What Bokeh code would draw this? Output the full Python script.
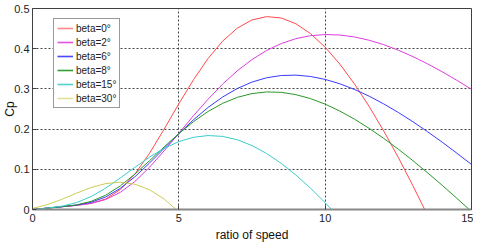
from bokeh.plotting import figure
from bokeh.models import Range1d, FixedTicker, Legend, LegendItem
from bokeh.embed import file_html
from bokeh.resources import INLINE

# tip speed ratio samples
tsr = [0, 0.5, 1, 1.5, 2, 2.5, 3, 3.5, 4, 4.5, 5, 5.5, 6, 6.5, 7, 7.5,
       8, 8.5, 9, 9.5, 10, 10.5, 11, 11.5, 12, 12.5, 13, 13.5, 14, 14.5, 15]

cp_b0 = [0, 0.0034, 0.0068, 0.0103, 0.0151, 0.0261, 0.0495, 0.0883, 0.140, 0.200,
         0.263, 0.3227, 0.3757, 0.4191, 0.4512, 0.4716, 0.4798, 0.4764, 0.4620, 0.4375,
         0.4037, 0.3618, 0.3125, 0.2567, 0.1954, 0.1293, 0.0590, -0.0147]
cp_b2 = [0, 0.0034, 0.0068, 0.0103, 0.0152, 0.0248, 0.0426, 0.0698, 0.1052, 0.1462,
         0.1897, 0.2332, 0.2744, 0.3121, 0.3452, 0.3730, 0.3956, 0.4128, 0.4250, 0.4324,
         0.4352, 0.4341, 0.4292, 0.4211, 0.4101, 0.3963, 0.3803, 0.3623, 0.3426, 0.3214, 0.2989]
cp_b6 = [0, 0.0034, 0.0068, 0.0109, 0.0179, 0.0312, 0.0526, 0.0815, 0.1156, 0.1522,
         0.1887, 0.2231, 0.2539, 0.2800, 0.3011, 0.3170, 0.3277, 0.3333, 0.3343, 0.3309,
         0.3236, 0.3128, 0.2987, 0.2820, 0.2627, 0.2414, 0.2182, 0.1934, 0.1674, 0.1401, 0.1120]
cp_b8 = [0, 0.0034, 0.0069, 0.0115, 0.0201, 0.0356, 0.0587, 0.0882, 0.1214, 0.1558,
         0.1888, 0.2185, 0.2439, 0.2642, 0.2790, 0.2884, 0.2924, 0.2914, 0.2857, 0.2758,
         0.2621, 0.2449, 0.2248, 0.2020, 0.1770, 0.1500, 0.1214, 0.0913, 0.0601, 0.0279, -0.0051]
cp_b15 = [0, 0.0035, 0.0083, 0.0171, 0.0321, 0.0531, 0.0784, 0.1050, 0.1304, 0.1522,
          0.1689, 0.1796, 0.1840, 0.1818, 0.1734, 0.1590, 0.1393, 0.1147, 0.0857, 0.0530,
          0.0169, -0.0221]
cp_b30 = [0.0026, 0.0119, 0.0252, 0.0405, 0.0546, 0.0645, 0.0679, 0.0630, 0.0491, 0.0260,
          -0.0061]

series_labels = ["beta=0°", "beta=2°", "beta=6°", "beta=8°", "beta=15°", "beta=30°"]
series_values = [cp_b0, cp_b2, cp_b6, cp_b8, cp_b15, cp_b30]
series_colors = ["#ff4a4a", "#dd3ddd", "#3a3aff", "#2a962a", "#3ccccc", "#cccc55"]
legend_colors = ["#ff8888", "#e055e0", "#4848ff", "#33a033", "#55d0d0", "#e0e099"]

x_ticks = [0, 5, 10, 15]
y_ticks = [0, 0.1, 0.2, 0.3, 0.4, 0.5]

FONT = "Liberation Sans"

p = figure(frame_width=439, frame_height=201,
           x_range=Range1d(0, 15), y_range=Range1d(0, 0.5),
           output_backend="svg", toolbar_location=None,
           min_border_left=0, min_border_right=2, min_border_top=8, min_border_bottom=0,
           background_fill_color="white", border_fill_color="white")

for vals, col in zip(series_values, series_colors):
    p.line(tsr[:len(vals)], vals, line_color=col, line_width=1)

# hidden copies of the series, used only to draw the legend keys
items = []
for lab, vals, col in zip(series_labels, series_values, legend_colors):
    r = p.line(tsr[:len(vals)], vals, line_color=col, line_width=1.6, visible=False)
    items.append(LegendItem(label=lab, renderers=[r]))

p.outline_line_color = "#404040"
p.outline_line_width = 1

for ax in (p.xaxis[0], p.yaxis[0]):
    ax.major_tick_in = 4
    ax.major_tick_out = 0
    ax.minor_tick_line_color = None
    ax.major_tick_line_color = "#404040"
    ax.major_label_text_font = FONT
    ax.major_label_text_font_size = "11px"
    ax.major_label_text_color = "#222222"
    ax.axis_label_text_font = FONT
    ax.axis_label_text_font_size = "12px"
    ax.axis_label_text_font_style = "normal"
    ax.axis_label_text_color = "#111111"

p.xaxis.ticker = FixedTicker(ticks=x_ticks)
p.yaxis.ticker = FixedTicker(ticks=y_ticks)
p.yaxis.major_label_overrides = {0: "0"}
p.xaxis.axis_label = "ratio of speed"
p.yaxis.axis_label = "Cp"
p.xaxis.major_label_standoff = 4
p.xaxis.axis_label_standoff = 3
p.yaxis.major_label_standoff = 3
p.yaxis.axis_label_standoff = -6
p.xaxis.axis_line_color = "#888888"
p.xaxis.axis_line_width = 2
p.yaxis.axis_line_color = "#404040"

p.xgrid.ticker = FixedTicker(ticks=[5, 10])
p.ygrid.ticker = FixedTicker(ticks=[0.1, 0.2, 0.3, 0.4])
for g in (p.xgrid[0], p.ygrid[0]):
    g.grid_line_color = "#444444"
    g.grid_line_dash = "2 2"
    g.grid_line_width = 1

legend = Legend(items=items, location=(21, 101),
                label_text_font=FONT, label_text_font_size="10px",
                label_text_color="#222222",
                glyph_width=16, glyph_height=12, label_height=12,
                spacing=2, padding=3, margin=0, label_standoff=3,
                border_line_color="#333333", border_line_width=1,
                background_fill_color="white", background_fill_alpha=1,
                inactive_fill_alpha=0)
p.add_layout(legend)

open("out.html", "w").write(file_html(p, INLINE))
